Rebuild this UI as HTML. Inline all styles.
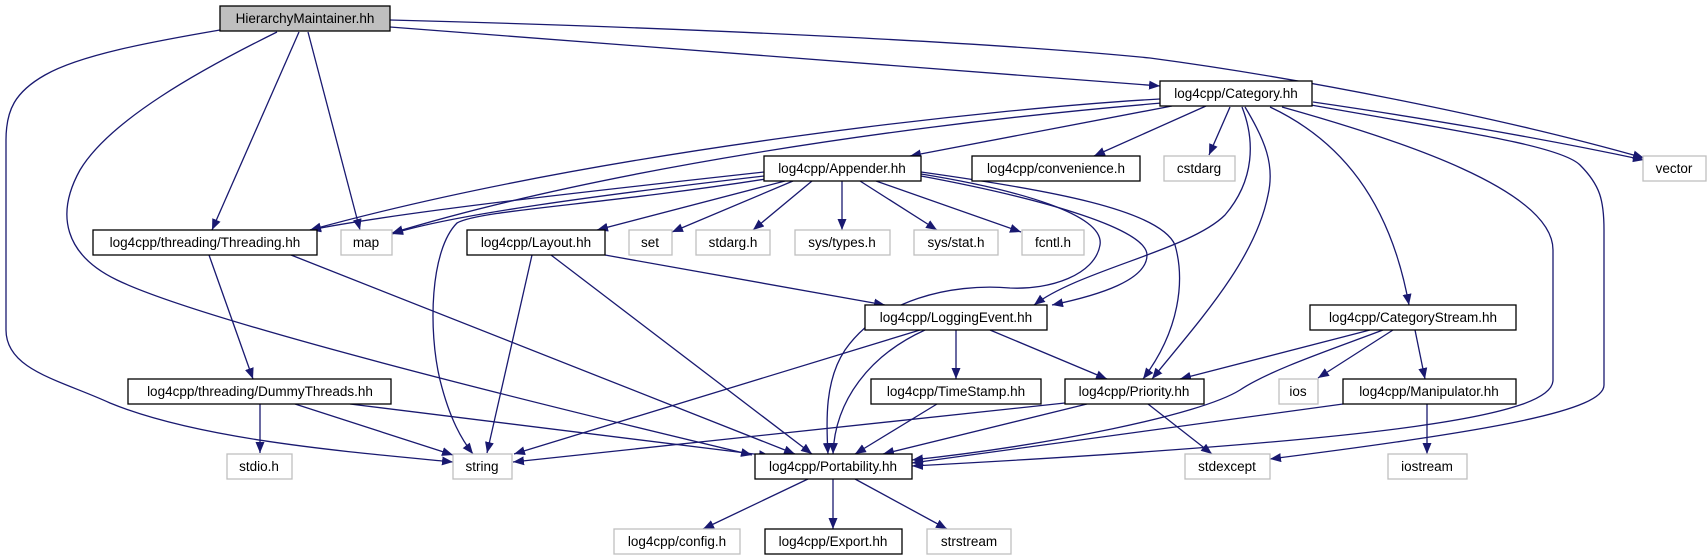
<!DOCTYPE html>
<html><head><meta charset="utf-8"><style>
html,body{margin:0;padding:0;background:#fff;width:1707px;height:560px;overflow:hidden}
svg{display:block}
text{font-family:"Liberation Sans","DejaVu Sans",sans-serif;font-size:13.5px;fill:#000;text-anchor:middle}
.n{fill:#fff;stroke:#000;stroke-width:1.3}
.g{fill:#fff;stroke:#bfbfbf;stroke-width:1.3}
.e{fill:none;stroke:#191970;stroke-width:1.3;marker-end:url(#a)}
</style></head><body>
<svg width="1707" height="560" viewBox="0 0 1707 560" xmlns="http://www.w3.org/2000/svg">
<defs><marker id="a" markerUnits="userSpaceOnUse" markerWidth="12" markerHeight="10" refX="11" refY="4.5" orient="auto"><path d="M0,0 L11,4.5 L0,9 z" fill="#191970"/></marker></defs>
<!-- edges -->
<path class="e" d="M220,30 C150,42 80,55 45,75 C15,92 6,110 6,140 L6,330 C6,370 60,380 110,403 C200,440 350,452 453,462"/>
<path class="e" d="M277,32 C200,70 110,120 80,170 C55,215 65,255 117,280 C200,320 500,395 752,455"/>
<path class="e" d="M299,32 L212,230"/>
<path class="e" d="M308,32 L360,230"/>
<path class="e" d="M390,27 L1160,86"/>
<path class="e" d="M390,20 C700,28 1000,43 1150,58 C1300,78 1500,117 1644,158"/>
<path class="e" d="M1172,106 L910,156"/>
<path class="e" d="M1160,99 C1000,108 600,150 310,230"/>
<path class="e" d="M1162,103 C900,125 600,170 392,233"/>
<path class="e" d="M1206,106 L1094,156"/>
<path class="e" d="M1230,107 L1209,155"/>
<path class="e" d="M1242,107 C1255,140 1255,180 1225,215 C1190,250 1080,270 1034,305"/>
<path class="e" d="M1245,107 C1265,140 1275,165 1268,195 C1255,260 1200,320 1152,379"/>
<path class="e" d="M1270,107 C1340,140 1390,200 1409,305"/>
<path class="e" d="M1282,107 C1400,140 1553,190 1553,250 L1553,380 C1553,415 1400,440 912,466"/>
<path class="e" d="M1311,105 C1450,130 1560,145 1580,165 C1600,185 1604,200 1604,230 L1604,385 C1604,410 1500,430 1270,459"/>
<path class="e" d="M1313,102 C1450,122 1550,140 1644,160"/>
<path class="e" d="M764,172 C600,190 400,212 310,230"/>
<path class="e" d="M764,176 C600,195 450,215 392,234"/>
<path class="e" d="M785,181 L597,230"/>
<path class="e" d="M766,179 C600,205 480,210 457,223 C430,250 428,330 440,380 C450,420 462,440 473,454"/>
<path class="e" d="M793,181 L672,232"/>
<path class="e" d="M812,181 L753,230"/>
<path class="e" d="M842,181 L842,230"/>
<path class="e" d="M860,181 L937,230"/>
<path class="e" d="M876,181 L1021,232"/>
<path class="e" d="M921,174 C1020,190 1105,215 1100,245 C1095,275 1050,290 1010,288 C950,283 880,300 845,350 C825,380 826,420 828,454"/>
<path class="e" d="M921,176 C1050,200 1147,230 1147,255 C1147,280 1100,295 1052,305"/>
<path class="e" d="M921,172 C1050,190 1160,210 1175,245 C1185,280 1180,330 1143,379"/>
<path class="e" d="M605,255 L885,305"/>
<path class="e" d="M532,255 L487,453"/>
<path class="e" d="M551,255 L812,454"/>
<path class="e" d="M209,255 L253,379"/>
<path class="e" d="M291,255 L795,454"/>
<path class="e" d="M260,404 L260,453"/>
<path class="e" d="M295,404 L453,455"/>
<path class="e" d="M350,404 L770,456"/>
<path class="e" d="M920,330 L514,454"/>
<path class="e" d="M925,330 C870,355 835,400 833,454"/>
<path class="e" d="M956,330 L956,379"/>
<path class="e" d="M990,330 L1107,379"/>
<path class="e" d="M937,404 L855,454"/>
<path class="e" d="M1065,403 L513,462"/>
<path class="e" d="M1087,404 L883,454"/>
<path class="e" d="M1148,404 L1212,454"/>
<path class="e" d="M1370,330 L1180,379"/>
<path class="e" d="M1383,330 C1330,350 1270,370 1240,390 C1200,415 1050,445 912,460"/>
<path class="e" d="M1393,330 L1318,378"/>
<path class="e" d="M1415,330 L1425,379"/>
<path class="e" d="M1343,404 L912,463"/>
<path class="e" d="M1427,404 L1427,454"/>
<path class="e" d="M808,479 L703,529"/>
<path class="e" d="M833,479 L833,529"/>
<path class="e" d="M855,479 L947,529"/>
<!-- nodes -->
<rect x="220" y="6" width="170" height="25" fill="#bfbfbf" stroke="#000" stroke-width="1.3"/><text x="305" y="23">HierarchyMaintainer.hh</text>
<rect class="n" x="1160" y="81" width="152" height="25"/><text x="1236" y="98">log4cpp/Category.hh</text>
<rect class="n" x="764" y="156" width="157" height="25"/><text x="842" y="173">log4cpp/Appender.hh</text>
<rect class="n" x="972" y="156" width="168" height="25"/><text x="1056" y="173">log4cpp/convenience.h</text>
<rect class="g" x="1164" y="156" width="71" height="25"/><text x="1199" y="173">cstdarg</text>
<rect class="g" x="1643" y="156" width="63" height="25"/><text x="1674" y="173">vector</text>
<rect class="n" x="93" y="230" width="224" height="25"/><text x="205" y="247">log4cpp/threading/Threading.hh</text>
<rect class="g" x="341" y="230" width="51" height="25"/><text x="366" y="247">map</text>
<rect class="n" x="467" y="230" width="138" height="25"/><text x="536" y="247">log4cpp/Layout.hh</text>
<rect class="g" x="629" y="230" width="43" height="25"/><text x="650" y="247">set</text>
<rect class="g" x="696" y="230" width="74" height="25"/><text x="733" y="247">stdarg.h</text>
<rect class="g" x="795" y="230" width="95" height="25"/><text x="842" y="247">sys/types.h</text>
<rect class="g" x="914" y="230" width="84" height="25"/><text x="956" y="247">sys/stat.h</text>
<rect class="g" x="1022" y="230" width="62" height="25"/><text x="1053" y="247">fcntl.h</text>
<rect class="n" x="865" y="305" width="182" height="25"/><text x="956" y="322">log4cpp/LoggingEvent.hh</text>
<rect class="n" x="1310" y="305" width="206" height="25"/><text x="1413" y="322">log4cpp/CategoryStream.hh</text>
<rect class="n" x="128" y="379" width="263" height="25"/><text x="260" y="396">log4cpp/threading/DummyThreads.hh</text>
<rect class="n" x="871" y="379" width="170" height="25"/><text x="956" y="396">log4cpp/TimeStamp.hh</text>
<rect class="n" x="1065" y="379" width="139" height="25"/><text x="1134" y="396">log4cpp/Priority.hh</text>
<rect class="g" x="1279" y="379" width="39" height="25"/><text x="1298" y="396">ios</text>
<rect class="n" x="1343" y="379" width="173" height="25"/><text x="1429" y="396">log4cpp/Manipulator.hh</text>
<rect class="g" x="227" y="454" width="65" height="25"/><text x="259" y="471">stdio.h</text>
<rect class="g" x="453" y="454" width="59" height="25"/><text x="482" y="471">string</text>
<rect class="n" x="755" y="454" width="157" height="25"/><text x="833" y="471">log4cpp/Portability.hh</text>
<rect class="g" x="1185" y="454" width="85" height="25"/><text x="1227" y="471">stdexcept</text>
<rect class="g" x="1388" y="454" width="79" height="25"/><text x="1427" y="471">iostream</text>
<rect class="g" x="614" y="529" width="126" height="25"/><text x="677" y="546">log4cpp/config.h</text>
<rect class="n" x="765" y="529" width="137" height="25"/><text x="833" y="546">log4cpp/Export.hh</text>
<rect class="g" x="927" y="529" width="84" height="25"/><text x="969" y="546">strstream</text>
</svg>
</body></html>
